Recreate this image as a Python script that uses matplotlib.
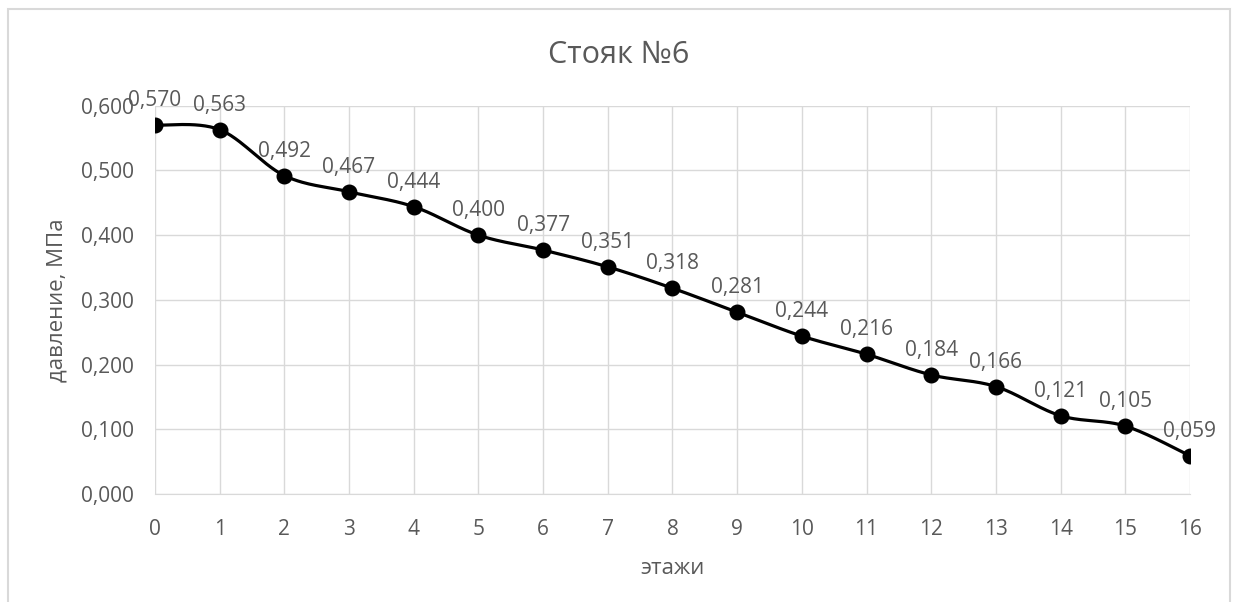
import matplotlib
matplotlib.use("Agg")
import matplotlib.pyplot as plt
import numpy as np
from matplotlib.patches import Rectangle

floors = list(range(17))
pressure = [0.570, 0.563, 0.492, 0.467, 0.444, 0.400, 0.377, 0.351, 0.318,
            0.281, 0.244, 0.216, 0.184, 0.166, 0.121, 0.105, 0.059]
y_ticks = [0.0, 0.1, 0.2, 0.3, 0.4, 0.5, 0.6]

title = "Стояк №6"
x_label = "этажи"
y_label = "давление, МПа"

TEXT = "#595959"
GRID = "#d9d9d9"

plt.rcParams['font.family'] = ['Open Sans', 'DejaVu Sans']


def smooth(xs, ys, n=30):
    # excel-like smoothed line: bezier through the points (catmull-rom tangents)
    p = np.column_stack([xs, ys]).astype(float)
    out = []
    for i in range(len(p) - 1):
        p0 = p[max(i - 1, 0)]
        p1 = p[i]
        p2 = p[i + 1]
        p3 = p[min(i + 2, len(p) - 1)]
        c1 = p1 + (p2 - p0) / 6
        c2 = p2 - (p3 - p1) / 6
        t = np.linspace(0, 1, n)[:, None]
        seg = ((1 - t) ** 3) * p1 + 3 * ((1 - t) ** 2) * t * c1 + 3 * (1 - t) * t ** 2 * c2 + t ** 3 * p2
        out.append(seg if i == 0 else seg[1:])
    out = np.vstack(out)
    return out[:, 0], out[:, 1]


fig = plt.figure(figsize=(12.33, 6.02), dpi=100)
ax = fig.add_axes([0.1257, 0.1794, 0.9651 - 0.1257, 0.8244 - 0.1794])

# chart area frame (bottom runs off the image)
fig.patches.append(Rectangle((8 / 1233, -0.05), 1222 / 1233, 1 - 9 / 602 + 0.05,
                             transform=fig.transFigure, fill=False,
                             edgecolor=GRID, linewidth=1.5))

sx, sy = smooth(floors, pressure)
ax.plot(sx, sy, color="black", linewidth=2.3, solid_capstyle="round", zorder=3)
ax.plot(floors, pressure, "o", color="black", markersize=10.5, zorder=4)

for x, y in zip(floors, pressure):
    ax.annotate(f"{y:.3f}".replace(".", ","), (x, y), xytext=(0, 10),
                textcoords="offset points", ha="center", va="bottom",
                fontsize=15, color=TEXT)

ax.set_xlim(0, 16)
ax.set_ylim(0, 0.6)
ax.set_xticks(floors)
ax.set_yticks(y_ticks)
ax.set_yticklabels([f"{v:.3f}".replace(".", ",") for v in y_ticks])
ax.grid(True, color=GRID, linewidth=1)
ax.set_axisbelow(True)
for s in ["top", "right", "left"]:
    ax.spines[s].set_visible(False)
ax.spines["bottom"].set_color(GRID)
ax.tick_params(length=0, colors=TEXT, labelsize=15)
ax.tick_params(axis="x", pad=18)
ax.tick_params(axis="y", pad=15)

ax.set_xlabel(x_label, fontsize=16, color=TEXT, labelpad=13)
ax.set_ylabel(y_label, fontsize=16, color=TEXT, va="center")
ax.yaxis.set_label_coords(-0.0947, 0.5)
fig.text(619 / 1233, 1 - 55 / 602, title, ha="center", va="center",
         fontsize=22, color=TEXT)

fig.savefig("out.png", dpi=100)
